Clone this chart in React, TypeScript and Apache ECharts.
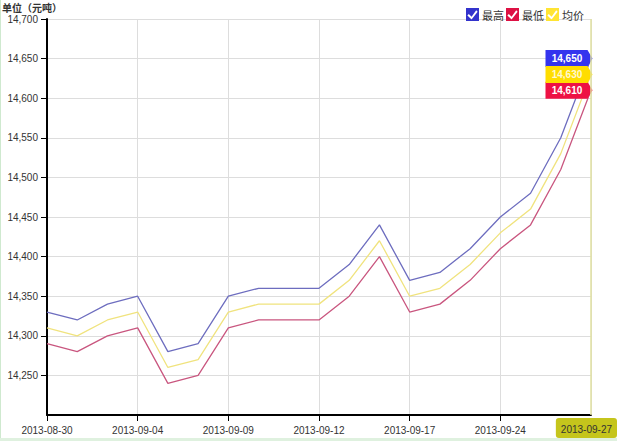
import React, { useEffect, useRef } from "react";
import * as echarts from "echarts";

const categories = [
  "2013-08-30", "2013-09-02", "2013-09-03", "2013-09-04", "2013-09-05", "2013-09-06",
  "2013-09-09", "2013-09-10", "2013-09-11", "2013-09-12", "2013-09-13", "2013-09-16",
  "2013-09-17", "2013-09-18", "2013-09-23", "2013-09-24", "2013-09-25", "2013-09-26",
  "2013-09-27",
];
const highValues = [14330, 14320, 14340, 14350, 14280, 14290, 14350, 14360, 14360, 14360, 14390, 14440, 14370, 14380, 14410, 14450, 14480, 14550, 14650];
const lowValues = [14290, 14280, 14300, 14310, 14240, 14250, 14310, 14320, 14320, 14320, 14350, 14400, 14330, 14340, 14370, 14410, 14440, 14510, 14610];
const avgValues = [14310, 14300, 14320, 14330, 14260, 14270, 14330, 14340, 14340, 14340, 14370, 14420, 14350, 14360, 14390, 14430, 14460, 14530, 14630];
const seriesNames = ["最高", "最低", "均价"];
const yMin = 14200;
const yMax = 14700;
const yStep = 50;
const unitTitle = "单位（元吨）";

const fmt = (v: number) => Number(v).toLocaleString("en-US");

const CHECK_ICON =
  "path://M0,0 L14,0 L14,14 L0,14 Z M3,6.5 L1.5,8 L6,12.5 L12.5,4 L11,2.5 L6,9.5 Z";
const TAG_SYMBOL = "path://M0,0 L42,0 L47,8 L42,16 L0,16 Z";

export default function App() {
  const ref = useRef<HTMLDivElement>(null);
  useEffect(() => {
    if (!ref.current) return;
    const chart = echarts.init(ref.current, undefined, { renderer: "svg" });
    const last = categories.length - 1;
    const lineColors = ["#6d6dbf", "#c9567f", "#f0e37e"];
    const tagColors = ["#3434ee", "#ffdd00", "#ee1144"];
    const legendColors = ["#3333cc", "#dd1144", "#ffe433"];
    const dataSets = [highValues, lowValues, avgValues];
    const tagColorFor = [tagColors[0], tagColors[2], tagColors[1]];

    chart.setOption({
      animation: false,
      backgroundColor: "#ffffff",
      textStyle: { fontFamily: "Liberation Sans, Arial, sans-serif" },
      graphic: [
        { type: "rect", left: 0, top: 0, shape: { width: 1, height: 441 }, style: { fill: "#cfe9cf" }, z: -10 },
        { type: "rect", left: 0, top: 438, shape: { width: 617, height: 3 }, style: { fill: "#dff1df" }, z: -10 },
        {
          type: "text", left: 2, top: 2, z: 10,
          style: { text: unitTitle, fontSize: 10, lineHeight: 10, fontWeight: "bold", fill: "#333", fontFamily: "Noto Sans CJK SC, sans-serif" },
        },
      ],
      legend: {
        right: 28,
        top: 3,
        itemWidth: 13,
        itemHeight: 13,
        itemGap: 2,
        icon: CHECK_ICON,
        textStyle: { fontSize: 11, color: "#333", fontFamily: "Noto Sans CJK SC, sans-serif", padding: [0, 0, 0, -2] },
        data: seriesNames.map((n, i) => ({ name: n, itemStyle: { color: legendColors[i] } })),
      },
      grid: { left: 47, right: 26, top: 19, bottom: 26 },
      xAxis: {
        type: "category",
        data: categories,
        boundaryGap: false,
        axisLine: { lineStyle: { color: "#000", width: 2 } },
        axisTick: { show: true, interval: 2, length: 6, lineStyle: { color: "#000" } },
        axisLabel: { interval: 2, color: "#333", fontSize: 10, margin: 10, showMaxLabel: false },
        splitLine: { show: true, interval: 2, lineStyle: { color: "#dddddd" } },
        axisPointer: {
          show: true,
          type: "line",
          value: last,
          status: "show",
          triggerTooltip: false,
          lineStyle: { color: "#e0e0a0", width: 1.5, type: "solid" },
          label: {
            show: true,
            backgroundColor: "#c5c51c",
            color: "#333",
            fontSize: 10,
            padding: [6, 5, 4, 5],
            margin: 3,
          },
        },
      },
      yAxis: {
        type: "value",
        min: yMin,
        max: yMax,
        interval: yStep,
        axisLine: { show: true, lineStyle: { color: "#000", width: 2 } },
        axisTick: { show: true, length: 6, lineStyle: { color: "#000" } },
        axisLabel: { color: "#333", fontSize: 10, margin: 9, showMinLabel: false, formatter: (v: number) => fmt(v) },
        splitLine: { show: true, lineStyle: { color: "#dddddd" } },
      },
      series: seriesNames.map((name, i) => ({
        name,
        type: "line",
        data: dataSets[i],
        showSymbol: false,
        symbol: "none",
        color: lineColors[i],
        lineStyle: { width: 1.3, color: lineColors[i] },
        markPoint: {
          symbol: TAG_SYMBOL,
          symbolSize: [47, 17],
          symbolOffset: [-22, 0],
          itemStyle: { color: tagColorFor[i] },
          label: {
            show: true,
            position: "inside",
            offset: [-2, 0],
            color: i === 2 ? "#fff8d0" : "#ffffff",
            fontSize: 10,
            fontWeight: "bold",
            formatter: (p: any) => fmt(p.value),
          },
          data: [{ coord: [last, dataSets[i][last]], value: dataSets[i][last] }],
        },
      })),
    });
    return () => chart.dispose();
  }, []);
  return <div ref={ref} style={{ position: "fixed", left: 0, top: 0, width: 617, height: 441 }} />;
}
